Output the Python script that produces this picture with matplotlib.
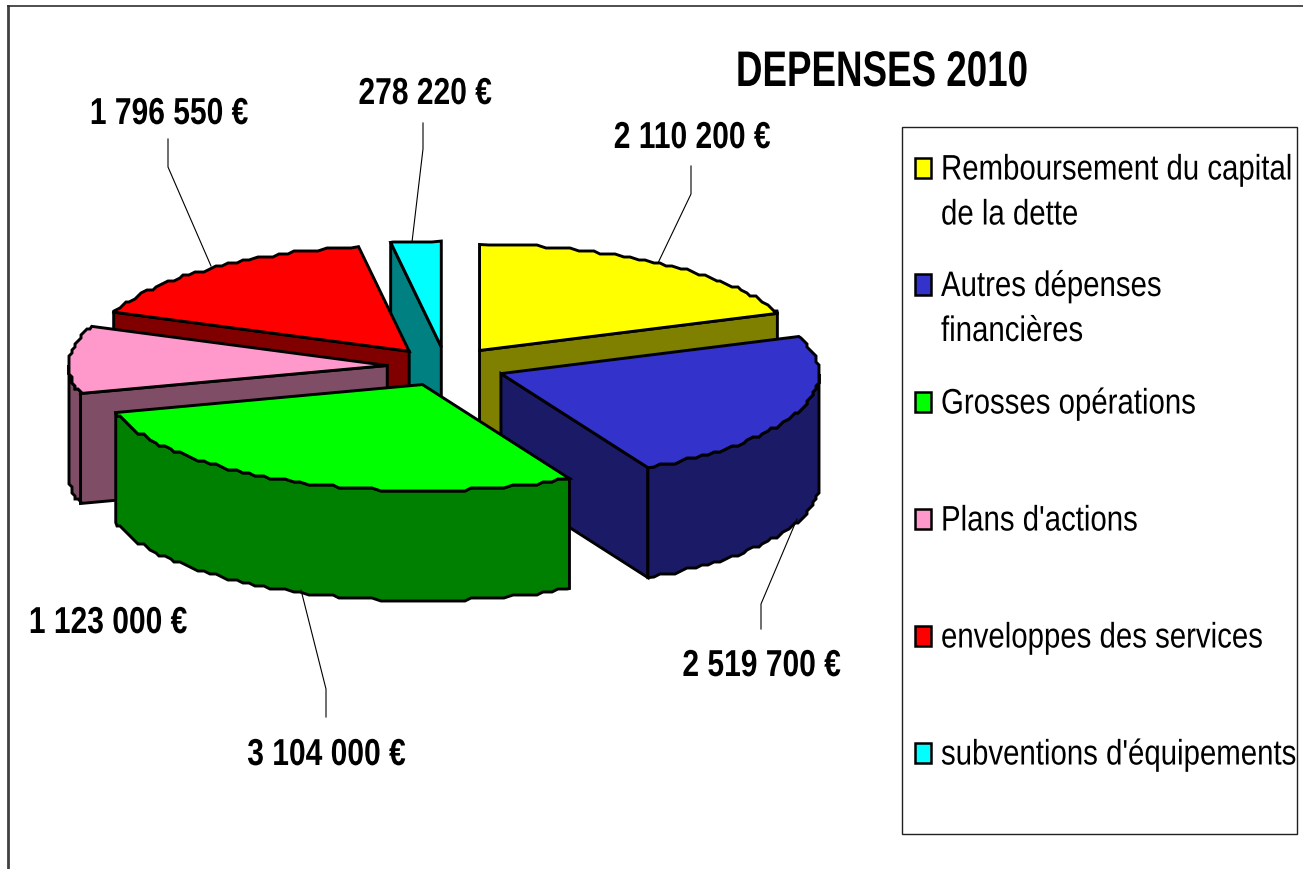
import matplotlib
matplotlib.use('Agg')
import matplotlib.pyplot as plt
import numpy as np
from matplotlib.patches import Polygon, Rectangle
from matplotlib.patheffects import AbstractPathEffect
from matplotlib.text import Text
from matplotlib.transforms import Affine2D

plt.rcParams['font.family'] = ['Liberation Sans', 'DejaVu Sans']

# Donnees
postes = ["Remboursement du capital\nde la dette", "Autres dépenses\nfinancières", "Grosses opérations",
          "Plans d'actions", "enveloppes des services", "subventions d'équipements"]
depenses = [2110200, 2519700, 3104000, 1123000, 1796550, 278220]
etiquettes = ["2 110 200 €", "2 519 700 €", "3 104 000 €", "1 123 000 €", "1 796 550 €", "278 220 €"]
couleurs = ['#FFFF00', '#3333CC', '#00FF00', '#FF99CC', '#FF0000', '#00FFFF']
couleurs_cote = ['#808000', '#1A1A66', '#008000', '#804D66', '#800000', '#008080']

# geometrie du camembert (pixels)
cx, cy = 446, 367.6
rx, ry = 318, 106
prof = 110
explode = 0.185
pas = 3.0  # arrondi grossier du contour, comme l'original


# la police de l'original est etroite : on compresse le texte en largeur
class Etroit(AbstractPathEffect):
    def __init__(self, sx, x0):
        super().__init__()
        self.sx, self.x0 = sx, x0

    def draw_path(self, renderer, gc, tpath, affine, rgbFace=None):
        a = affine + Affine2D().translate(-self.x0, 0).scale(self.sx, 1).translate(self.x0, 0)
        renderer.draw_path(gc, tpath, a, rgbFace)


def texte_etroit(x, y, s, sx, x0=None, **kw):
    t = Text(x, y, s, **kw)
    t.set_path_effects([Etroit(sx, x if x0 is None else x0)])
    ax.add_artist(t)
    return t


fig = plt.figure(figsize=(13.03, 8.70), dpi=100)
ax = fig.add_axes([0, 0, 1, 1])
ax.set_xlim(0, 1303)
ax.set_ylim(870, 0)
ax.axis('off')

# cadre general
ax.plot([8, 8], [7, 870], color='#404040', lw=2.0, zorder=1)
ax.plot([8, 1303], [7, 7], color='#303030', lw=1.2, zorder=1)

total = sum(depenses)
fractions = np.array(depenses) / total * 360
fins = np.cumsum(fractions)
debuts = fins - fractions


def arc(x0, y0, a, b):
    grille = np.arange(np.ceil(a / 1.5) * 1.5, b, 1.5)
    deg = np.concatenate([[a], grille[grille > a], [b]])
    t = np.radians(deg)
    x = x0 + rx * np.sin(t)
    y = y0 - ry * np.cos(t)
    x[1:-1] = np.round(x[1:-1] / pas) * pas
    y[1:-1] = np.round(y[1:-1] / pas) * pas
    return deg, np.column_stack([x, y])


def face(points, couleur, z):
    ax.add_patch(Polygon(points, closed=True, facecolor=couleur, edgecolor='black',
                         lw=2.1, joinstyle='miter', zorder=z))


ordre = [5, 0, 4, 3, 1, 2]
z = 2
for i in ordre:
    a, b = debuts[i], fins[i]
    m = np.radians((a + b) / 2)
    x0 = cx + explode * rx * np.sin(m)
    y0 = cy - explode * ry * np.cos(m)
    deg, contour = arc(x0, y0, a, b)
    bas = np.array([0, prof])

    # faces radiales visibles
    if np.sin(np.radians(a)) < -1e-6:
        p = contour[0]
        face([(x0, y0), p, p + bas, (x0, y0 + prof)], couleurs_cote[i], z)
    if np.sin(np.radians(b)) > 1e-6:
        p = contour[-1]
        face([(x0, y0), p, p + bas, (x0, y0 + prof)], couleurs_cote[i], z)

    # paroi exterieure (partie avant seulement)
    mur = contour[(deg >= 90) & (deg <= 270)]
    if len(mur) > 1:
        face(np.vstack([mur, (mur + bas)[::-1]]), couleurs_cote[i], z)

    # dessus
    face(np.vstack([[(x0, y0)], contour]), couleurs[i], z)
    z += 1

# traits de rappel
rappels = [[(658, 264), (691, 195), (691, 167)],
           [(797, 520), (761, 605), (761, 630)],
           [(301, 591), (326, 690), (326, 718)],
           None,
           [(211, 267), (168, 168), (168, 140)],
           [(412, 243), (423, 150), (423, 124)]]
for r in rappels:
    if r is not None:
        ax.plot([q[0] for q in r], [q[1] for q in r], color='black', lw=0.8, zorder=20)

pos_etiquettes = [(692, 139), (761.5, 667), (326.5, 756), (108, 624), (169, 115), (425, 95)]
for txt, (x, y) in zip(etiquettes, pos_etiquettes):
    texte_etroit(x, y, txt, 0.80, ha='center', va='center', fontsize=27, fontweight='bold', zorder=21)

texte_etroit(882, 74, "DEPENSES 2010", 0.735, ha='center', va='center', fontsize=36,
             fontweight='bold', zorder=21)

# legende
ax.add_patch(Rectangle((902, 128), 395, 707, facecolor='white', edgecolor='#202020', lw=1.0, zorder=1.5))
pos_legende = [168.5, 285, 402.5, 519.5, 636.5, 753.5]
x_texte, sx_legende = 870, 0.83
# point fixe de la compression, pour que le texte comprime commence a x=941
x_fixe = (941 - sx_legende * x_texte) / (1 - sx_legende)
for nom, coul, y in zip(postes, couleurs, pos_legende):
    ax.add_patch(Rectangle((914.5, y - 10), 16, 20.5, facecolor=coul, edgecolor='black', lw=1.8, zorder=21))
    for k, ligne in enumerate(nom.split('\n')):
        texte_etroit(x_texte, y + 12 + k * 45, ligne, sx_legende, x0=x_fixe, ha='left', va='baseline',
                     fontsize=25.5, zorder=21)

fig.savefig('out.png', dpi=100)
